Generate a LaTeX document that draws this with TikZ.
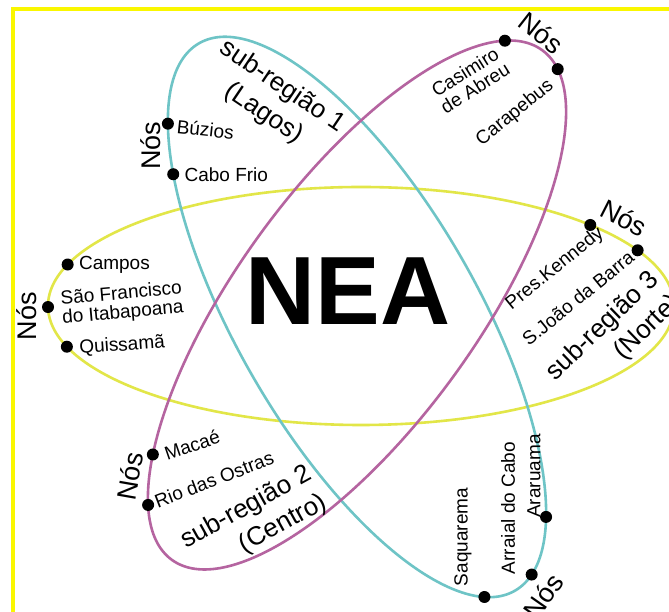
\documentclass[tikz,border=0pt]{standalone}
\usepackage{fontspec}
\setmainfont{Liberation Sans}
\usetikzlibrary{positioning}
\begin{document}
\begin{tikzpicture}[x=1pt, y=1pt,
    dot/.style={circle, fill=black, inner sep=0pt, minimum size=12pt},
    lbl/.style={inner sep=0pt, font=\fontsize{19}{19}\selectfont},
    nos/.style={inner sep=0pt, font=\fontsize{27}{28}\selectfont},
    subreg/.style={inner sep=0pt, font=\fontsize{26}{32}\selectfont},
    orbit/.style={line width=2.6pt}]
    \definecolor{my-teal}{RGB}{110,196,198}
    \definecolor{my-purple}{RGB}{181,100,160}
    \definecolor{my-yellow}{RGB}{226,230,72}
    \definecolor{frame-yellow}{RGB}{250,247,0}
    \useasboundingbox (0,0) rectangle (669,612);
    \clip (0,0) rectangle (669,612);
    \fill[white] (0,0) rectangle (669,612);
    \draw[frame-yellow, line width=4pt] (13,-20) rectangle (700,603);
    \begin{scope}[shift={(361,306)}]
      \draw[orbit, my-yellow] (0,0) ellipse (313 and 119);
      \node[dot] (campos) at (159.6:313 and 119) {};
      \node[dot] (sfi) at (180.5:313 and 119) {};
      \node[dot] (quissama) at (200:313 and 119) {};
      \node[dot] (kennedy) at (42.9:313 and 119) {};
      \node[dot] (sjb) at (27.9:313 and 119) {};
    \end{scope}
    \begin{scope}[shift={(357,295)}, rotate=-60]
      \draw[orbit, my-teal] (0,0) ellipse (316 and 120);
      \node[dot] (buzios) at (214:316 and 120) {};
      \node[dot] (cabofrio) at (227:316 and 120) {};
      \node[dot] (saquarema) at (-14.3:316 and 120) {};
      \node[dot] (arraial) at (10.8:316 and 120) {};
      \node[dot] (araruama) at (32.1:316 and 120) {};
    \end{scope}
    \begin{scope}[shift={(357,307)}, rotate=54]
      \draw[orbit, my-purple] (0,0) ellipse (315 and 120);
      \node[dot] (casimiro) at (17.3:315 and 120) {};
      \node[dot] (carapebus) at (-11.4:315 and 120) {};
      \node[dot] (macae) at (139.9:315 and 120) {};
      \node[dot] (rio) at (154.6:315 and 120) {};
    \end{scope}
    \node[inner sep=0pt, font=\bfseries\fontsize{97}{100}\selectfont] (nea) at (348,321) {NEA};
    \node[lbl, right=5pt of campos] (campos-l) {Campos};
    \node[lbl, align=left, rotate=5, right=7pt of sfi, yshift=-2pt] (sfi-l) {São Francisco\\do Itabapoana};
    \node[lbl, rotate=4, right=6pt of quissama, yshift=-2pt] (quissama-l) {Quissamã};
    \node[lbl, rotate=39] (kennedy-l) at (555,343) {Pres.Kennedy};
    \node[lbl, rotate=39] (sjb-l) at (578,314) {S.João da Barra};
    \node[subreg, align=right, rotate=44] (sub3) at (614,274) {sub-região 3\\(Norte)};
    \node[nos, rotate=-27] (nos-yr) at (624,394) {Nós};
    \node[nos, rotate=90] (nos-yl) at (27,296) {Nós};
    \node[subreg, align=center, rotate=-34] (sub1) at (273,512) {sub-região 1\\(Lagos)};
    \node[lbl, rotate=-6, right=3pt of buzios, yshift=-3pt] (buzios-l) {Búzios};
    \node[lbl, right=5pt of cabofrio] (cabofrio-l) {Cabo Frio};
    \node[lbl, rotate=90] (saquarema-l) at (463,75) {Saquarema};
    \node[lbl, rotate=90] (arraial-l) at (508,104) {Arraial do Cabo};
    \node[lbl, rotate=90] (araruama-l) at (534,136) {Araruama};
    \node[nos, rotate=90] (nos-tl) at (151,466) {Nós};
    \node[nos, rotate=55] (nos-tb) at (543,16) {Nós};
    \node[lbl, align=center, rotate=32] (casimiro-l) at (470,532) {Casimiro\\de Abreu};
    \node[lbl, rotate=39] (carapebus-l) at (515,499) {Carapebus};
    \node[nos, rotate=-38] (nos-pt) at (541,579) {Nós};
    \node[lbl, rotate=19, right=6pt of macae] (macae-l) {Macaé};
    \node[lbl, rotate=21, right=2pt of rio, yshift=3pt] (rio-l) {Rio das Ostras};
    \node[subreg, align=right, rotate=29] (sub2) at (254,90) {sub-região 2\\(Centro)};
    \node[nos, rotate=80] (nos-pl) at (130,136) {Nós};
\end{tikzpicture}
\end{document}
